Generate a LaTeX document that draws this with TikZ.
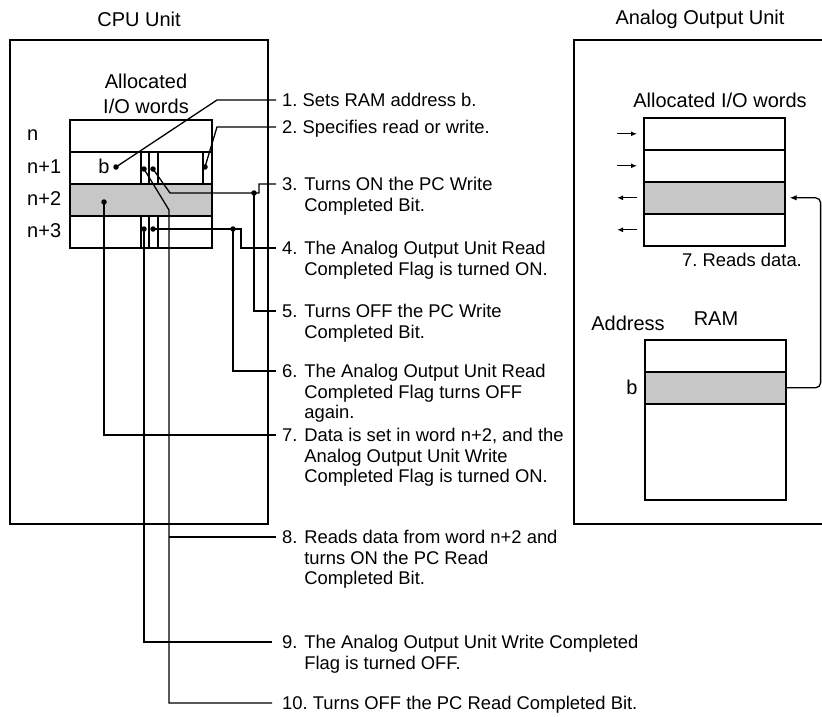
\documentclass[tikz,border=0pt]{standalone}
\usepackage{fontspec}
\setmainfont{Liberation Sans}
\usetikzlibrary{arrows.meta}
\begin{document}
\begin{tikzpicture}[x=1pt,y=-1pt,
  frame/.style={line width=1.2pt},
  wordrow/.style={draw, line width=1.6pt, minimum width=142pt, minimum height=32pt, inner sep=0pt, anchor=north west},
  shaded/.style={fill=black!22},
  bitline/.style={line width=1.2pt},
  conn/.style={line width=1.3pt},
  dot/.style={circle, fill=black, inner sep=0pt, minimum size=5.5pt},
  lbl/.style={anchor=base west, inner sep=0pt, font=\fontsize{18.4}{20.5}\selectfont},
  big/.style={inner sep=0pt, font=\fontsize{20}{24}\selectfont},
  sarrow/.style={line width=1.2pt, -{Latex[length=6pt,width=5pt]}}
]
\useasboundingbox (0,0) rectangle (822,717);

% titles
\node[big] (tcpu) at (139,19) {CPU Unit};
\node[big] (tana) at (700,19) {Analog Output Unit};

% unit frames
\draw[frame] (10,40) rectangle (268,524);
\draw[frame] (823,40) -- (574,40) -- (574,524) -- (823,524);

% ---- CPU allocated words
\node[big, align=center, font=\fontsize{20}{25}\selectfont] (alloc) at (146,94) {Allocated\\I/O words};
\node[wordrow] (wn) at (69,119) {};
\node[wordrow] (wn1) at (69,151) {};
\node[wordrow, shaded] (wn2) at (69,183) {};
\node[wordrow] (wn3) at (69,215) {};
\node[big, anchor=west] (ln) at (27,135) {n};
\node[big, anchor=west] (ln1) at (27,167) {n+1};
\node[big, anchor=west] (ln2) at (27,199) {n+2};
\node[big, anchor=west] (ln3) at (27,231) {n+3};
\node[big] (bb) at (104,166) {b};

% bit dividers
\foreach \x in {141,149,158} {
  \draw[bitline] (\x,151) -- (\x,183);
  \draw[bitline] (\x,215) -- (\x,247);
}
\draw[bitline] (203,151) -- (203,183);

% dots
\node[dot] (db) at (116,167) {};
\node[dot] (d2) at (205,167) {};
\node[dot] (dr) at (144,169) {};
\node[dot] (dw) at (153,169) {};
\node[dot] (dd) at (104,202) {};
\node[dot] (dx) at (144,229) {};
\node[dot] (dy) at (153,229) {};
\node[dot] (dj3) at (254,193) {};
\node[dot] (dj4) at (233,229) {};
\coordinate (j8) at (169,537);

% label ends
\coordinate (e1) at (276,100);
\coordinate (e2) at (276,127);
\coordinate (e3) at (276,184);
\coordinate (e4) at (276,248);
\coordinate (e5) at (276,311);
\coordinate (e6) at (276,371);
\coordinate (e7) at (276,435);
\coordinate (e8) at (276,537);
\coordinate (e9) at (272,642);
\coordinate (e10) at (272,703);

% connectors
\draw[conn] (db.center) -- (217,100) -- (e1);
\draw[conn] (d2.center) -- (217,127) -- (e2);
\draw[conn] (dw.center) -- (170,193) -- (dj3.center) -- (259,193) -- (259,184) -- (e3);
\draw[conn] (dy.center) -- (241,229) -- (241,248) -- (e4);
\draw[conn] (dj3.center) |- (e5);
\draw[conn] (dj4.center) |- (e6);
\draw[conn] (dd.center) |- (e7);
\draw[conn] (j8) -- (e8);
\draw[conn] (dx.center) |- (e9);
\draw[conn] (dr.center) -- (169,210) |- (e10);

% labels
\node[lbl] (l1) at (282,106.6) {1.\ Sets RAM address b.};
\node[lbl] (l2) at (282,133.6) {2.\ Specifies read or write.};
\node[lbl] (l3) at (282,190.6) {\begin{tabular}[t]{@{}l@{ }l@{}}3.&Turns ON the PC Write\\&Completed Bit.\end{tabular}};
\node[lbl] (l4) at (282,254.6) {\begin{tabular}[t]{@{}l@{ }l@{}}4.&The Analog Output Unit Read\\&Completed Flag is turned ON.\end{tabular}};
\node[lbl] (l5) at (282,317.6) {\begin{tabular}[t]{@{}l@{ }l@{}}5.&Turns OFF the PC Write\\&Completed Bit.\end{tabular}};
\node[lbl] (l6) at (282,377.6) {\begin{tabular}[t]{@{}l@{ }l@{}}6.&The Analog Output Unit Read\\&Completed Flag turns OFF\\&again.\end{tabular}};
\node[lbl] (l7) at (282,441.6) {\begin{tabular}[t]{@{}l@{ }l@{}}7.&Data is set in word n+2, and the\\&Analog Output Unit Write\\&Completed Flag is turned ON.\end{tabular}};
\node[lbl] (l8) at (282,543.6) {\begin{tabular}[t]{@{}l@{ }l@{}}8.&Reads data from word n+2 and\\&turns ON the PC Read\\&Completed Bit.\end{tabular}};
\node[lbl] (l9) at (282,648.6) {\begin{tabular}[t]{@{}l@{ }l@{}}9.&The Analog Output Unit Write Completed\\&Flag is turned OFF.\end{tabular}};
\node[lbl] (l10) at (282,709.6) {10.\ Turns OFF the PC Read Completed Bit.};

% ---- Analog Output Unit
\node[big] (ralloc) at (720,100) {Allocated I/O words};
\node[wordrow, minimum width=141pt] (r1) at (643,117) {};
\node[wordrow, minimum width=141pt] (r2) at (643,149) {};
\node[wordrow, minimum width=141pt, shaded] (r3) at (643,181) {};
\node[wordrow, minimum width=141pt] (r4) at (643,213) {};
\draw[sarrow] ([xshift=-26pt]r1.west) -- ([xshift=-6pt]r1.west);
\draw[sarrow] ([xshift=-26pt]r2.west) -- ([xshift=-6pt]r2.west);
\draw[sarrow] ([xshift=-6pt]r3.west) -- ([xshift=-26pt]r3.west);
\draw[sarrow] ([xshift=-6pt]r4.west) -- ([xshift=-26pt]r4.west);
\node[lbl] (rl7) at (682,266.6) {7.\ Reads data.};

\node[big] (addr) at (628,323) {Address};
\node[big] (ram) at (716,319) {RAM};
\node[wordrow, minimum width=141pt] (m1) at (644,339) {};
\node[wordrow, minimum width=141pt, shaded] (mb) at (644,371) {};
\node[wordrow, minimum width=141pt, minimum height=96pt] (m3) at (644,403) {};
\node[big] (rb) at (632,387) {b};

\draw[conn, rounded corners=5pt, -{Latex[length=7pt,width=5.5pt]}, shorten >=4pt]
  (mb.east) -| ([xshift=35pt]r3.east) -- (r3.east);
\end{tikzpicture}
\end{document}
